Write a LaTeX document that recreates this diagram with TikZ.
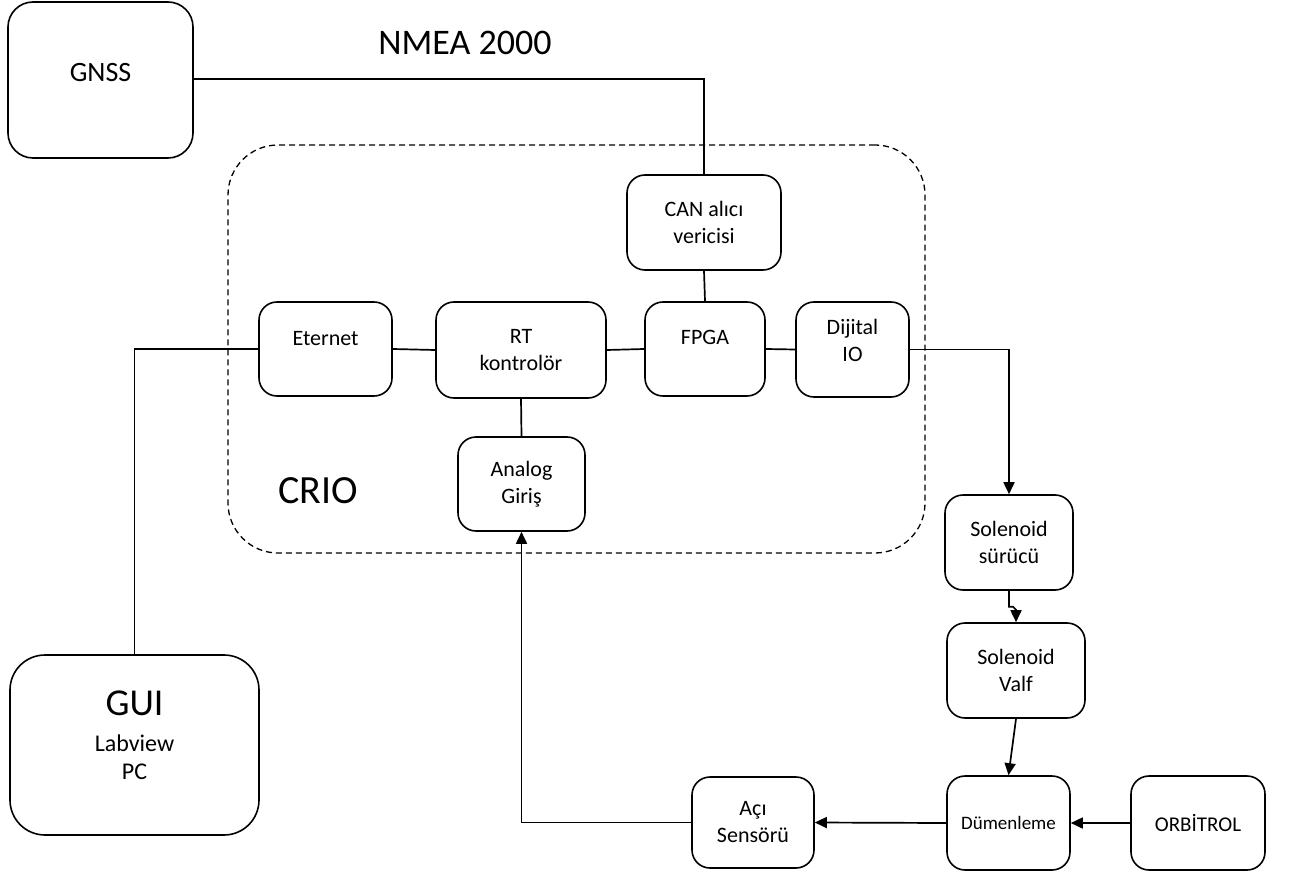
\documentclass[tikz,border=0pt]{standalone}
\usepackage{fontspec}
\setmainfont{Carlito}
\usetikzlibrary{arrows.meta}
% lift a label without changing the box size
\newcommand\lift[2]{\raisebox{#1}[\height][\depth]{#2}}
\begin{document}
\begin{tikzpicture}[x=1pt,y=-1pt,
  box/.style={draw, line width=1.6pt, rounded corners=18pt, align=center,
    inner sep=0pt, font=\fontsize{22}{27}\selectfont},
  wire/.style={line width=1.7pt},
  arr/.style={wire, -{Triangle[length=12pt,width=11pt]}},
  group/.style={draw, line width=1.3pt, dash pattern=on 6pt off 4pt,
    rounded corners=50pt, inner sep=0pt}]
\useasboundingbox (0,0) rectangle (1289,874);

% cRIO chassis outline
\node[group, minimum width=697pt, minimum height=408pt] (crio) at (576.5,349) {};
\node[font=\fontsize{40}{46}\selectfont] (criolbl) at (318,491) {CRIO};

% external units
\node[box, rounded corners=25pt, minimum width=185pt, minimum height=156pt,
  font=\fontsize{28}{32}\selectfont] (gnss) at (100.5,80) {\lift{7pt}{GNSS}};
\node[font=\fontsize{36}{42}\selectfont] (nmea) at (465,43) {NMEA 2000};
\node[box, rounded corners=35pt, minimum width=249pt, minimum height=180pt,
  font=\fontsize{24}{28}\selectfont] (gui) at (134.5,745)
  {\lift{6pt}{\begin{tabular}{@{}c@{}}{\fontsize{38}{44}\selectfont GUI}\\[8pt]Labview\\PC\end{tabular}}};

% modules inside the chassis
\node[box, minimum width=154pt, minimum height=95pt] (can) at (704,222.5) {CAN alıcı\\vericisi};
\node[box, minimum width=120pt, minimum height=94pt] (fpga) at (705,349) {\lift{12pt}{FPGA}};
\node[box, minimum width=133pt, minimum height=94pt] (eth) at (325.5,349) {\lift{10pt}{Eternet}};
\node[box, minimum width=170pt, minimum height=96pt] (rt) at (521,350) {RT\\kontrolör};
\node[box, minimum width=113pt, minimum height=95pt] (dio) at (852.5,349.5)
  {\lift{7pt}{\begin{tabular}{@{}c@{}}Dijital\\IO\end{tabular}}};
\node[box, minimum width=127pt, minimum height=94pt] (ana) at (521.5,484) {Analog\\Giriş};

% steering chain
\node[box, minimum width=128pt, minimum height=95pt] (sur) at (1009,542.5) {Solenoid\\sürücü};
\node[box, minimum width=138pt, minimum height=95pt] (valf) at (1016,670.5) {Solenoid\\Valf};
\node[box, minimum width=123pt, minimum height=94pt,
  font=\fontsize{19}{23}\selectfont] (dum) at (1008.5,823) {Dümenleme};
\node[box, minimum width=134pt, minimum height=94pt,
  font=\fontsize{21}{25}\selectfont] (orb) at (1198,823) {ORBİTROL};
\node[box, minimum width=122pt, minimum height=91pt] (aci) at (753,822.5) {Açı\\Sensörü};

% connections
\draw[wire] (gnss.east |- 0,79) -| (can.north);
\draw[wire] (can.south) -- (fpga.north);
\draw[wire] (eth.east) -- (rt.west);
\draw[wire] (rt.east) -- (fpga.west);
\draw[wire] (fpga.east) -- (dio.west);
\draw[wire] (eth.west) -| (gui.north);
\draw[wire] (rt.south) -- (ana.north);
\draw[arr] (dio.east) -| (sur.north);
\draw[arr] (sur.south) -- ++(0,16) -- ++(4,0) -- ++(3,3) -- (valf.north);
\draw[arr] (valf.south) -- (dum.north);
\draw[arr] (orb.west) -- (dum.east);
\draw[arr] (dum.west) -- (aci.east);
\draw[arr] (aci.west) -| (ana.south);
\end{tikzpicture}
\end{document}
